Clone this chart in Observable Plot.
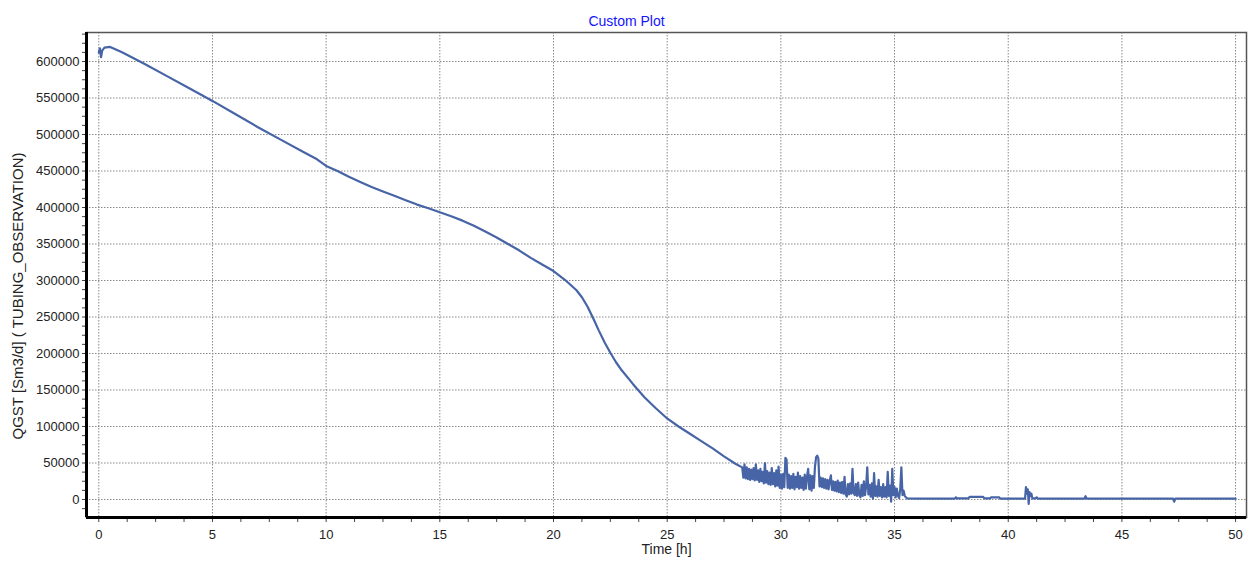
<!DOCTYPE html>
<html>
<head>
<meta charset="utf-8">
<script src="https://cdn.jsdelivr.net/npm/d3@7"></script>
<script src="https://cdn.jsdelivr.net/npm/@observablehq/plot@0.6"></script>
<style>
  html, body { margin: 0; padding: 0; background: #fff; }
</style>
</head>
<body>
<div id="chart"></div>
<script>
const title = "Custom Plot";
const xLabel = "Time [h]";
const yLabel = "QGST [Sm3/d] ( TUBING_OBSERVATION)";

const xMajorTicks = [0, 5, 10, 15, 20, 25, 30, 35, 40, 45, 50];
const yMajorTicks = [0, 50000, 100000, 150000, 200000, 250000, 300000, 350000, 400000, 450000, 500000, 550000, 600000];
const xMinorStep = 1.25;
const yMinorStep = 12500;

// smooth decline part (time h, rate Sm3/d)
const timeSmooth = [0, 0.05, 0.1, 0.15, 0.25, 0.5, 1, 2, 3, 4, 5, 6, 7, 8, 9, 9.6, 10, 10.5, 11, 11.5, 12, 12.5, 13, 13.5, 14, 14.5, 15, 15.5, 16, 16.5, 17, 17.5, 18, 18.5, 19, 19.5, 20, 20.5, 21, 21.25, 21.5, 21.75, 22, 22.25, 22.5, 22.75, 23, 23.5, 24, 24.5, 25, 25.5, 26, 26.5, 27, 27.5, 28];
const rateSmooth = [612000, 618000, 606000, 615000, 619000, 620000, 613000, 597000, 580000, 563000, 546000, 528000, 510000, 493000, 476000, 466000, 457000, 450000, 442000, 435000, 428000, 422000, 416000, 410000, 404000, 399000, 393500, 388000, 382000, 375000, 367000, 359000, 350000, 341000, 331000, 322000, 313000, 301000, 287000, 277000, 264000, 248000, 231000, 215000, 201000, 188000, 177000, 158000, 140000, 125000, 111000, 100000, 90000, 80000, 70000, 59000, 49000];

// noisy part
const timeNoisy = [28.30, 28.35, 28.40, 28.45, 28.50, 28.55, 28.60, 28.65, 28.70, 28.75, 28.80, 28.85, 28.90, 28.95, 29.00, 29.05, 29.10, 29.15, 29.20, 29.25, 29.30, 29.35, 29.40, 29.45, 29.50, 29.55, 29.60, 29.65, 29.70, 29.75, 29.80, 29.85, 29.90, 29.95, 30.00, 30.05, 30.10, 30.15, 30.20, 30.25, 30.30, 30.35, 30.40, 30.45, 30.50, 30.55, 30.60, 30.65, 30.70, 30.75, 30.80, 30.85, 30.90, 30.95, 31.00, 31.05, 31.10, 31.15, 31.20, 31.25, 31.30, 31.35, 31.40, 31.45, 31.50, 31.55, 31.60, 31.65, 31.70, 31.75, 31.80, 31.85, 31.90, 31.95, 32.00, 32.05, 32.10, 32.15, 32.20, 32.25, 32.30, 32.35, 32.40, 32.45, 32.50, 32.55, 32.60, 32.65, 32.70, 32.75, 32.80, 32.85, 32.90, 32.95, 33.00, 33.05, 33.10, 33.15, 33.20, 33.25, 33.30, 33.35, 33.40, 33.45, 33.50, 33.55, 33.60, 33.65, 33.70, 33.75, 33.80, 33.85, 33.90, 33.95, 34.00, 34.05, 34.10, 34.15, 34.20, 34.25, 34.30, 34.35, 34.40, 34.45, 34.50, 34.55, 34.60, 34.65, 34.70, 34.75, 34.80, 34.85, 34.90, 34.95, 35.00, 35.05, 35.10, 35.15, 35.20, 35.25, 35.30, 35.35, 35.40, 35.45, 35.50];
const rateNoisy = [44000, 30000, 48000, 29000, 44000, 28000, 42000, 27000, 41000, 28000, 43000, 26000, 48000, 27000, 40000, 24000, 42000, 25000, 38000, 22000, 50000, 23000, 39000, 21000, 37000, 20000, 43000, 21000, 36000, 18000, 40000, 19000, 45000, 16000, 34000, 15000, 35000, 17000, 57000, 55000, 16000, 34000, 15000, 32000, 16000, 35000, 14000, 31000, 17000, 37000, 15000, 32000, 16000, 30000, 13000, 34000, 15000, 31000, 42000, 14000, 33000, 12000, 32000, 16000, 45000, 58000, 60000, 56000, 18000, 30000, 17000, 29000, 16000, 28000, 15000, 27000, 14000, 26000, 33000, 13000, 25000, 12000, 24000, 11000, 26000, 10000, 23000, 9000, 24000, 8000, 31000, 7000, 4000, 21000, 7000, 22000, 8000, 42000, 9000, 6000, 21000, 5000, 23000, 6000, 3000, 20000, 5000, 25000, 6000, 18000, 44000, 7000, 20000, 4000, 22000, 1000, 36000, 5000, 18000, 4000, 27000, 5000, 17000, 3000, 21000, 4000, 17000, 3000, 38000, 5000, 19000, -3000, 42000, 6000, 17000, 3000, 15000, 5000, 2000, 14000, 44000, 6000, 12000, 5000, 3000];

// tail after shut-in
const timeTail = [35.55, 36, 37, 37.65, 37.7, 37.75, 38.25, 38.3, 38.9, 38.95, 39.2, 39.25, 39.6, 39.65, 40.5, 40.74, 40.78, 40.82, 40.86, 40.9, 40.94, 40.98, 41.02, 41.06, 41.2, 41.25, 41.3, 43.35, 43.4, 43.45, 47.25, 47.3, 47.35, 50];
const rateTail = [1500, 1200, 1200, 1200, 3000, 1500, 1500, 3500, 3500, 1500, 1500, 3000, 3000, 1200, 1200, 1200, 17000, 8000, 14000, -6000, 10000, 5000, 8000, 1500, 1500, 3000, 1200, 1200, 4500, 1200, 1200, -3000, 1200, 1200];

const data = [];
[[timeSmooth, rateSmooth], [timeNoisy, rateNoisy], [timeTail, rateTail]].forEach(([ts, vs]) => {
  ts.forEach((t, i) => data.push({t, v: vs[i]}));
});

const xDomain = [-0.54, 50.48];
const yDomain = [-24660, 639730];
const xTicks = d3.range(0, 50.001, xMinorStep);
const yTicks = d3.range(-12500, 639000, yMinorStep);

const chart = Plot.plot({
  width: 1252,
  height: 566,
  marginLeft: 86,
  marginRight: 6,
  marginTop: 32,
  marginBottom: 49,
  x: {domain: xDomain},
  y: {domain: yDomain},
  style: {fontFamily: "'Liberation Sans', Arial, sans-serif", fontSize: "13px", background: "#fff", color: "#222"},
  marks: [
    Plot.gridX(xMajorTicks, {stroke: "#8a8a8a", strokeOpacity: 1, strokeDasharray: "1.5,1.5"}),
    Plot.gridY(yMajorTicks, {stroke: "#8a8a8a", strokeOpacity: 1, strokeDasharray: "1.5,1.5"}),
    Plot.frame({stroke: "#555", strokeWidth: 1.5}),
    Plot.axisX(xTicks, {tickSize: 5, tickPadding: 7, stroke: "#444", tickFormat: d => xMajorTicks.includes(d) ? String(d) : "", label: null, fontSize: 13}),
    Plot.axisY(yTicks, {tickSize: 4, tickPadding: 3, stroke: "#444", tickFormat: d => yMajorTicks.includes(d) ? String(d) : "", label: null, fontSize: 13}),
    Plot.line(data, {x: "t", y: "v", stroke: "#4664a6", strokeWidth: 2.2}),
    Plot.ruleX([xDomain[0]], {stroke: "#000", strokeWidth: 3}),
    Plot.ruleY([yDomain[0]], {stroke: "#000", strokeWidth: 3}),
    Plot.text([title], {frameAnchor: "top", dx: -40, dy: -16, fill: "#1414ff", fontSize: 14}),
    Plot.text([xLabel], {frameAnchor: "bottom", dy: 36, fill: "#222", fontSize: 14}),
    Plot.text([yLabel], {frameAnchor: "left", textAnchor: "middle", dx: -68, dy: 21, rotate: -90, fill: "#222", fontSize: 15})
  ]
});
document.getElementById("chart").appendChild(chart);
</script>
</body>
</html>
